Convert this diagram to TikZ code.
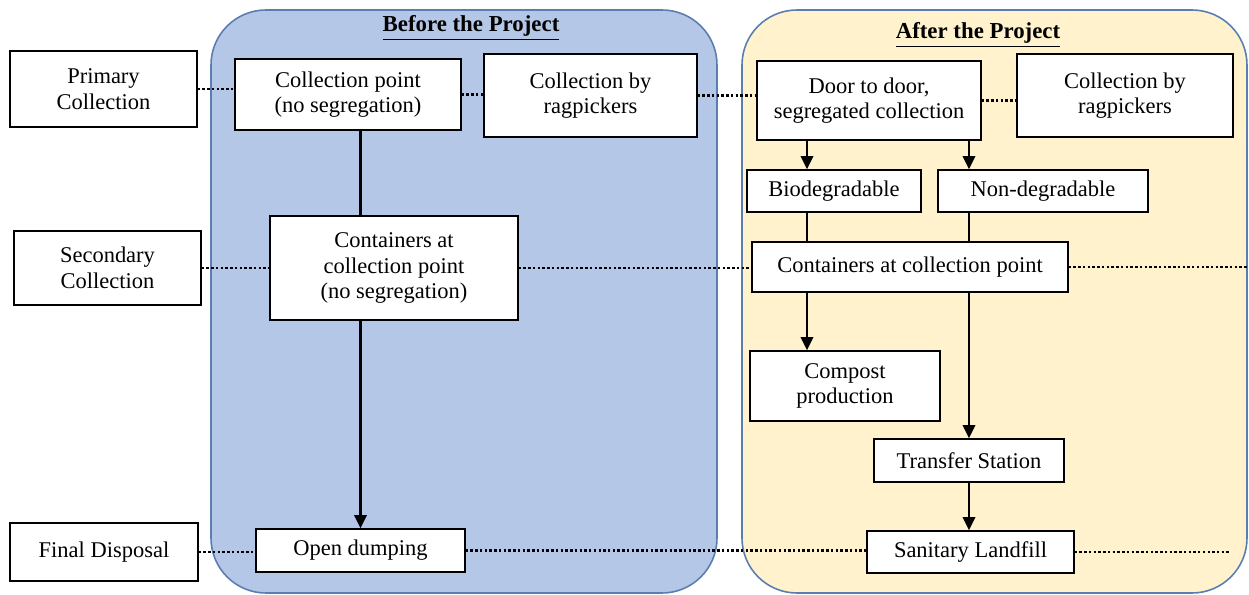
\documentclass[tikz,border=0pt]{standalone}
\usepackage{fontspec}
\setmainfont{Liberation Serif}
\usetikzlibrary{arrows.meta, positioning}
\usepackage{xcolor}
\definecolor{beforeblue}{HTML}{B4C7E7}
\definecolor{afteryellow}{HTML}{FFF2CC}
\definecolor{panelline}{HTML}{5B7DB0}

\begin{document}
\begin{tikzpicture}[x=0.02cm, y=-0.02cm, >={Triangle[length=7.5pt, width=7pt]},
  box/.style={rectangle, draw, fill=white, line width=0.8pt, align=center, inner sep=2pt, font=\fontsize{12.8}{14.5}\selectfont},
  panel/.style={draw=panelline, line width=0.9pt, rounded corners=1.1cm, fill=#1},
  heading/.style={font=\fontsize{13}{15}\selectfont\bfseries},
  flow/.style={line width=1.5pt},
  dots/.style={line width=1.5pt, dash pattern=on 1.4pt off 1.3pt}]
  \useasboundingbox (0,0) rectangle (1249,595);
  % the two stages
  \draw[panel=beforeblue] (211,10) rectangle (717,593);
  \draw[panel=afteryellow] (742,10) rectangle (1247,593);
  \node[heading] (before) at (471,28) {\underline{Before the Project}};
  \node[heading] (after) at (978,35) {\underline{After the Project}};
  % levels
  \node[box, minimum width=3.74cm, minimum height=1.52cm] (prim) at (103.5,89) {Primary\\Collection};
  \node[box, minimum width=3.74cm, minimum height=1.48cm] (sec) at (107.5,268) {Secondary\\Collection};
  \node[box, minimum width=3.76cm, minimum height=1.16cm] (final) at (104,552) {Final Disposal};
  % before
  \node[box, minimum width=4.52cm, minimum height=1.42cm] (cpB) at (348,94.5) {Collection point\\(no segregation)};
  \node[box, minimum width=4.26cm, minimum height=1.66cm] (ragB) at (590.5,95.5) {Collection by\\ragpickers};
  \node[box, minimum width=4.96cm, minimum height=2.08cm] (contB) at (394,268) {Containers at\\collection point\\(no segregation)};
  \node[box, minimum width=4.18cm, minimum height=0.86cm] (dumpB) at (360.5,550.5) {Open dumping};
  % after
  \node[box, minimum width=4.48cm, minimum height=1.58cm] (doorA) at (869,100.5) {Door to door,\\segregated collection};
  \node[box, minimum width=4.32cm, minimum height=1.66cm] (ragA) at (1125,95.5) {Collection by\\ragpickers};
  \node[box, minimum width=3.48cm, minimum height=0.84cm] (bio) at (834,191) {Biodegradable};
  \node[box, minimum width=4.2cm, minimum height=0.84cm] (nondeg) at (1043,191) {Non-degradable};
  \node[box, minimum width=6.32cm, minimum height=1.0cm] (contA) at (910,267) {Containers at collection point};
  \node[box, minimum width=3.8cm, minimum height=1.4cm] (compost) at (845,386) {Compost\\production};
  \node[box, minimum width=3.8cm, minimum height=0.86cm] (transfer) at (969,460.5) {Transfer Station};
  \node[box, minimum width=4.14cm, minimum height=0.84cm] (landfill) at (970.5,552) {Sanitary Landfill};
  \coordinate (lcol) at (807,0);
  \coordinate (rowend) at (1249,267);
  \coordinate (dispend) at (1231,552);
  % flows
  \draw[flow] (cpB.south -| dumpB) -- (contB.north -| dumpB);
  \draw[flow, ->] (contB.south -| dumpB) -- (dumpB.north);
  \draw[flow, ->] (doorA.south -| lcol) -- (bio.north -| lcol);
  \draw[flow, ->] (doorA.south -| transfer) -- (nondeg.north -| transfer);
  \draw[flow] (bio.south -| lcol) -- (contA.north -| lcol);
  \draw[flow] (nondeg.south -| transfer) -- (contA.north -| transfer);
  \draw[flow, ->] (contA.south -| lcol) -- (compost.north -| lcol);
  \draw[flow, ->] (contA.south -| transfer) -- (transfer.north);
  \draw[flow, ->] (transfer.south) -- (transfer.south |- landfill.north);
  % dotted level lines
  \draw[dots] (prim.east) -- (prim.east -| cpB.west);
  \draw[dots] (cpB.east) -- (cpB.east -| ragB.west);
  \draw[dots] (ragB.east) -- (ragB.east -| doorA.west);
  \draw[dots] (doorA.east) -- (doorA.east -| ragA.west);
  \draw[dots] (sec.east) -- (sec.east -| contB.west);
  \draw[dots] (contB.east) -- (contB.east -| contA.west);
  \draw[dots] (contA.east) -- (rowend);
  \draw[dots] (final.east) -- (final.east -| dumpB.west);
  \draw[dots] (dumpB.east) -- (dumpB.east -| landfill.west);
  \draw[dots] (landfill.east) -- (dispend);
\end{tikzpicture}
\end{document}
